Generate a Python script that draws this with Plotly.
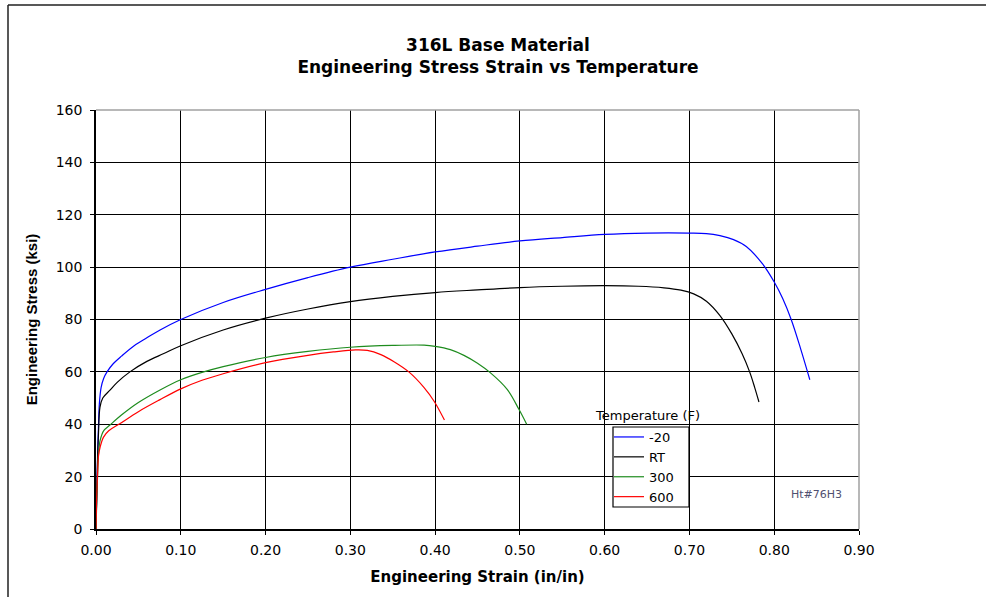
import plotly.graph_objects as go

# ---- data ----
strain_m20 = [0, 0.001, 0.002, 0.003, 0.004, 0.006, 0.009, 0.013, 0.02, 0.03, 0.045, 0.06, 0.0756, 0.10,
              0.15, 0.20, 0.25, 0.30, 0.35, 0.40, 0.45, 0.50, 0.55, 0.60, 0.65, 0.70, 0.72, 0.736, 0.752,
              0.767, 0.786, 0.80, 0.81, 0.82, 0.831, 0.842]
stress_m20 = [0, 15, 30, 40, 48, 54, 57.5, 60, 63, 66, 70, 73, 76, 80,
              86.5, 91.5, 96, 100, 103, 105.8, 108, 110, 111.3, 112.5, 113, 113, 112.8, 112, 110.5,
              107.9, 101.3, 94.3, 88, 80, 69, 57]

strain_rt = [0, 0.001, 0.002, 0.003, 0.0047, 0.008, 0.0165, 0.025, 0.04, 0.06, 0.08, 0.10, 0.15, 0.20,
             0.25, 0.30, 0.35, 0.40, 0.45, 0.50, 0.55, 0.60, 0.64, 0.67, 0.69, 0.705, 0.72, 0.736, 0.75,
             0.762, 0.771, 0.777, 0.782]
stress_rt = [0, 15, 28, 37, 46.5, 50, 53, 56, 60, 64, 67, 70, 76, 80.5,
             84, 86.8, 88.8, 90.3, 91.3, 92.2, 92.7, 92.9, 92.7, 92.1, 91.2, 89.8, 87, 81.5, 74.5,
             67, 60, 54, 48.5]

strain_300 = [0, 0.001, 0.002, 0.003, 0.005, 0.009, 0.0165, 0.03, 0.05, 0.075, 0.10, 0.125, 0.15, 0.20,
              0.25, 0.30, 0.35, 0.387, 0.40, 0.418, 0.434, 0.45, 0.465, 0.485, 0.499, 0.508]
stress_300 = [0, 12, 22, 29, 34, 37.5, 39.7, 43.5, 48.3, 53, 57, 59.8, 62, 65.5,
              67.8, 69.4, 70.1, 70.2, 69.75, 68.5, 66.3, 63.3, 59.7, 53.3, 45.6, 40]

strain_600 = [0, 0.001, 0.002, 0.003, 0.005, 0.0087, 0.015, 0.028, 0.05, 0.075, 0.10, 0.125, 0.15, 0.20,
              0.25, 0.28, 0.306, 0.32, 0.336, 0.352, 0.369, 0.387, 0.399, 0.411]
stress_600 = [0, 14, 22, 28, 31.5, 35, 37.5, 40.2, 44.8, 49.3, 53.5, 56.8, 59.3, 63.5,
              66.3, 67.6, 68.4, 68.2, 66.6, 63.8, 60, 54, 48.7, 41.6]

series_names = ["-20", "RT", "300", "600"]
series_colors = ["#0000FF", "#000000", "#1E8C1E", "#FF0000"]
x_ticks = [0, 0.1, 0.2, 0.3, 0.4, 0.5, 0.6, 0.7, 0.8, 0.9]
y_ticks = [0, 20, 40, 60, 80, 100, 120, 140, 160]

WIDE = "DejaVu Sans, Verdana, sans-serif"
ARIAL = "Liberation Sans, Arial, sans-serif"

# plot area in screen pixels
L, R, T, B = 96, 859, 110, 529
W, H = 986, 597
def px(x):
    return (x - L) / (R - L)
def py(y):
    return (B - y) / (B - T)

fig = go.Figure()
for name, color, xs, ys in zip(series_names, series_colors,
                               [strain_m20, strain_rt, strain_300, strain_600],
                               [stress_m20, stress_rt, stress_300, stress_600]):
    fig.add_trace(go.Scatter(x=xs, y=ys, mode="lines", name=name,
                             line=dict(color=color, width=1.2, shape="spline", smoothing=1.0)))

fig.update_layout(
    width=W, height=H,
    margin=dict(l=L, r=W - R, t=T, b=H - B, autoexpand=False),
    paper_bgcolor="white", plot_bgcolor="white",
    font=dict(family=WIDE, color="black", size=14),
    title=dict(text="<b>316L Base Material<br>Engineering Stress Strain vs Temperature</b>",
               x=498 / W, xref="container", xanchor="center",
               y=1 - 50.5 / H, yref="container", yanchor="middle",
               font=dict(family=WIDE, size=17, color="black")),
    showlegend=True,
    legend=dict(x=px(609), y=py(422), xanchor="left", yanchor="top",
                bgcolor="rgba(0,0,0,0)", borderwidth=0,
                font=dict(family=WIDE, size=13, color="black"),
                itemwidth=30, tracegroupgap=0),
    xaxis=dict(range=[0, 0.9], tickvals=x_ticks, tickformat=".2f",
               showgrid=True, gridcolor="black", gridwidth=1,
               showline=True, linecolor="black", linewidth=1.5,
               ticks="outside", ticklen=4, tickcolor="black",
               ticklabelstandoff=3,
               tickfont=dict(family=WIDE, size=14),
               zeroline=False,
               title=dict(text="<b>Engineering Strain (in/in)</b>", standoff=15,
                          font=dict(family=WIDE, size=15))),
    yaxis=dict(range=[0, 160], tickvals=y_ticks,
               showgrid=True, gridcolor="black", gridwidth=1,
               showline=True, linecolor="black", linewidth=1.5,
               ticks="outside", ticklen=4, tickcolor="black",
               ticklabelstandoff=5,
               tickfont=dict(family=WIDE, size=14),
               zeroline=False,
               title=dict(text="<b>Engineering Stress (ksi)</b>", standoff=14,
                          font=dict(family=ARIAL, size=15))),
)

# gray plot-area border on top and right
fig.add_shape(type="line", xref="paper", yref="paper", x0=0, x1=1, y0=1, y1=1,
              line=dict(color="#A0A0A0", width=1.5))
fig.add_shape(type="line", xref="paper", yref="paper", x0=1, x1=1, y0=0, y1=1,
              line=dict(color="#A0A0A0", width=1.5))

# outer chart frame (top and left edges visible)
fig.add_shape(type="line", xref="paper", yref="paper", x0=px(8), x1=px(992),
              y0=py(5), y1=py(5), line=dict(color="#202020", width=1.5))
fig.add_shape(type="line", xref="paper", yref="paper", x0=px(8), x1=px(8),
              y0=py(5), y1=py(603), line=dict(color="#202020", width=1.5))

# legend box
fig.add_shape(type="rect", xref="paper", yref="paper", x0=px(613), x1=px(689),
              y0=py(507), y1=py(427), fillcolor="white",
              line=dict(color="black", width=1.2))

fig.add_annotation(text="Temperature (F)", xref="paper", yref="paper",
                   x=px(647), y=py(415), showarrow=False,
                   xanchor="center", yanchor="middle",
                   font=dict(family=WIDE, size=13, color="black"))
fig.add_annotation(text="Ht#76H3", xref="paper", yref="paper",
                   x=px(816), y=py(494), showarrow=False,
                   xanchor="center", yanchor="middle",
                   font=dict(family=WIDE, size=11, color="#505070"))

fig.write_html("out.html", config={"displayModeBar": False},
               post_script="document.body.style.margin='0';")
